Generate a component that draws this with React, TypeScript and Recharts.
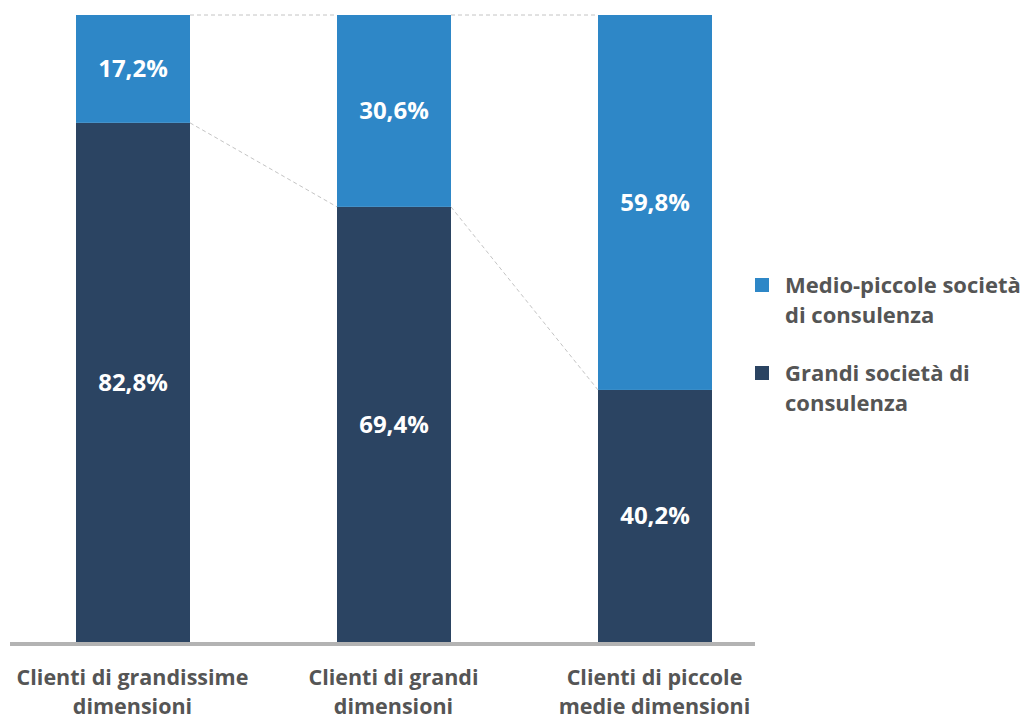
import React from "react";
import { BarChart, Bar, XAxis, YAxis, LabelList } from "recharts";

const categories = [
  ["Clienti di grandissime", "dimensioni"],
  ["Clienti di grandi", "dimensioni"],
  ["Clienti di piccole", "medie dimensioni"],
];
const grandi = [82.8, 69.4, 40.2];
const medioPiccole = [17.2, 30.6, 59.8];
const seriesNames = {
  medio: ["Medio-piccole società", "di consulenza"],
  grandi: ["Grandi società di", "consulenza"],
};

const LIGHT = "#2E87C7";
const DARK = "#2B4462";
const TEXT = "#555555";
const FONT = "'Open Sans', sans-serif";

const data = categories.map((c, i) => ({
  name: c.join("\n"),
  grandi: grandi[i],
  medio: medioPiccole[i],
}));

const fmt = (v: number) => v.toFixed(1).replace(".", ",") + "%";

const Tick = (props: any) => {
  const { x, y, payload } = props;
  const lines = String(payload.value).split("\n");
  return (
    <text
      x={x}
      y={y}
      textAnchor="middle"
      fill={TEXT}
      fontFamily={FONT}
      fontWeight={700}
      fontSize={21.5}
    >
      {lines.map((l, i) => (
        <tspan key={i} x={x} dy={i === 0 ? 35 : 29}>
          {l}
        </tspan>
      ))}
    </text>
  );
};

const LegendContent = () => {
  const items = [
    { color: LIGHT, lines: seriesNames.medio },
    { color: DARK, lines: seriesNames.grandi },
  ];
  return (
    <div style={{ fontFamily: FONT, fontWeight: 700, fontSize: 22, color: TEXT }}>
      {items.map((it, i) => (
        <div
          key={i}
          style={{ display: "flex", alignItems: "flex-start", marginBottom: i === 0 ? 28 : 0 }}
        >
          <div
            style={{
              width: 14,
              height: 14,
              background: it.color,
              marginTop: 9,
              marginRight: 16,
              flex: "none",
            }}
          />
          <div style={{ lineHeight: "30px" }}>
            {it.lines.map((l, j) => (
              <div key={j} style={{ whiteSpace: "nowrap" }}>
                {l}
              </div>
            ))}
          </div>
        </div>
      ))}
    </div>
  );
};

export default function App() {
  const prev: Record<number, any> = {};
  const TopShape = (props: any) => {
    const { x, y, width, height, index, fill } = props;
    prev[index] = { x, y, width, height };
    const p = prev[index - 1];
    return (
      <g>
        <rect x={x} y={y} width={width} height={height} fill={fill} />
        {p && (
          <g stroke="#C4C4C4" strokeWidth={1} strokeDasharray="4 3" fill="none">
            <line x1={p.x + p.width} y1={p.y} x2={x} y2={y} />
            <line x1={p.x + p.width} y1={p.y + p.height} x2={x} y2={y + height} />
          </g>
        )}
      </g>
    );
  };

  const labelStyle = { fontFamily: FONT, fontWeight: 700, fontSize: 24 };

  return (
    <div style={{ position: "absolute", left: 0, top: 0, width: 1035, height: 717 }}>
      <BarChart
        width={1035}
        height={717}
        data={data}
        margin={{ top: 15, left: 2, right: 250, bottom: 0 }}
      >
        <XAxis
          dataKey="name"
          height={75}
          axisLine={false}
          tickLine={false}
          tick={<Tick />}
          interval={0}
        />
        <YAxis hide domain={[0, 100]} />
        <Bar
          dataKey="grandi"
          stackId="a"
          fill={DARK}
          barSize={114}
          isAnimationActive={false}
        >
          <LabelList
            dataKey="grandi"
            position="center"
            formatter={(v: any) => fmt(Number(v))}
            fill="#ffffff"
            style={labelStyle}
          />
        </Bar>
        <Bar
          dataKey="medio"
          stackId="a"
          fill={LIGHT}
          barSize={114}
          shape={TopShape}
          isAnimationActive={false}
        >
          <LabelList
            dataKey="medio"
            position="center"
            formatter={(v: any) => fmt(Number(v))}
            fill="#ffffff"
            style={labelStyle}
          />
        </Bar>
        <line x1={10} x2={755} y1={644} y2={644} stroke="#B3B3B3" strokeWidth={4} />
      </BarChart>
      <div style={{ position: "absolute", left: 755, top: 269, width: 280 }}>
        <LegendContent />
      </div>
    </div>
  );
}
